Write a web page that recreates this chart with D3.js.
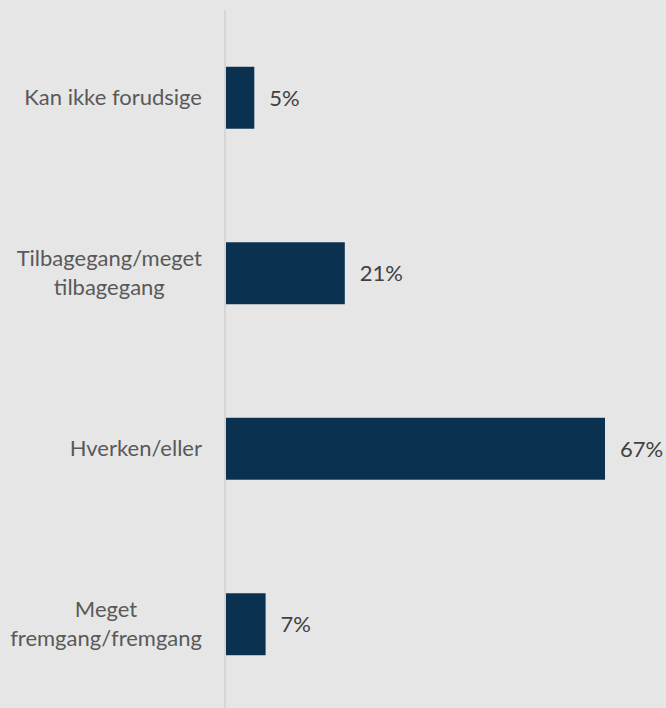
<!DOCTYPE html>
<html>
<head>
<meta charset="utf-8">
<script src="https://cdn.jsdelivr.net/npm/d3@7"></script>
<style>
  html, body { margin: 0; padding: 0; background: #e6e6e6; }
  svg { display: block; }
</style>
</head>
<body>
<div id="chart"></div>
<script>
// Categories top to bottom, each label split into display lines
const categories = ["Kan ikke forudsige", "Tilbagegang/meget tilbagegang", "Hverken/eller", "Meget fremgang/fremgang"];
const labelLines = [["Kan ikke forudsige"], ["Tilbagegang/meget", "tilbagegang"], ["Hverken/eller"], ["Meget", "fremgang/fremgang"]];
const values = [5, 21, 67, 7];

const W = 666, H = 708;
const axisX = 226, labelRight = 202;

const svg = d3.select("#chart")
    .append("svg")
    .attr("width", W)
    .attr("height", H);

svg.append("rect")
    .attr("width", W)
    .attr("height", H)
    .attr("fill", "#e6e6e6");

// Scales
const y = d3.scaleBand()
    .domain(categories)
    .range([10, 712])
    .paddingInner(0.647)
    .paddingOuter(0.3235);

const x = d3.scaleLinear()
    .domain([0, d3.max(values)])
    .range([axisX, 605]);

// Vertical axis line
svg.append("line")
    .attr("x1", axisX - 1)
    .attr("x2", axisX - 1)
    .attr("y1", 10)
    .attr("y2", H)
    .attr("stroke", "#d6d6d6")
    .attr("stroke-width", 2);

const data = categories.map((c, i) => ({cat: c, lines: labelLines[i], value: values[i]}));

// Bars
svg.selectAll(".bar")
    .data(data)
    .enter()
    .append("rect")
    .attr("class", "bar")
    .attr("x", x(0))
    .attr("y", d => y(d.cat))
    .attr("width", d => x(d.value) - x(0))
    .attr("height", y.bandwidth())
    .attr("fill", "#0a3150");

// Value labels
svg.selectAll(".value")
    .data(data)
    .enter()
    .append("text")
    .attr("class", "value")
    .attr("x", d => x(d.value) + 15)
    .attr("y", d => y(d.cat) + y.bandwidth() / 2 + 8)
    .style("font-family", "Lato, sans-serif")
    .style("font-size", "22px")
    .style("fill", "#404040")
    .text(d => d.value + "%");

// Category labels (multi-line labels centered within their block)
const lineH = 28.5;
const labels = svg.selectAll(".label")
    .data(data)
    .enter()
    .append("text")
    .attr("class", "label")
    .style("font-family", "Lato, sans-serif")
    .style("font-size", "22px")
    .style("fill", "#595959");

labels.each(function (d) {
    const t = d3.select(this);
    const cy = y(d.cat) + y.bandwidth() / 2 + 7;
    const n = d.lines.length;
    const spans = t.selectAll("tspan")
        .data(d.lines)
        .enter()
        .append("tspan")
        .attr("y", (l, i) => cy + (i - (n - 1) / 2) * lineH)
        .text(l => l);
    if (n === 1) {
        t.attr("text-anchor", "end");
        spans.attr("x", labelRight);
    } else {
        let maxW = 0;
        spans.each(function () { maxW = Math.max(maxW, this.getComputedTextLength()); });
        t.attr("text-anchor", "middle");
        spans.attr("x", labelRight - maxW / 2);
    }
});
</script>
</body>
</html>
